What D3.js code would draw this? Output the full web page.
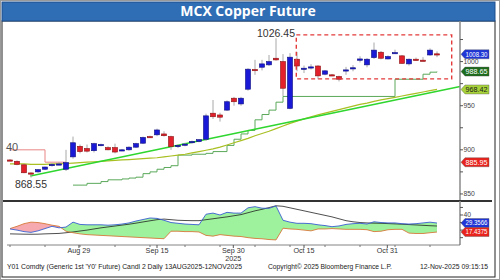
<!DOCTYPE html>
<html><head><meta charset="utf-8">
<script src="https://cdn.jsdelivr.net/npm/d3@7/dist/d3.min.js"></script>
<style>body{margin:0;background:#fff}svg{display:block}text{font-family:"Liberation Sans",Arial,sans-serif}</style>
</head><body><svg id="c" width="500" height="280"></svg>
<script>
// ---------- DATA ----------
const title = "MCX Copper Future";
const opens  = [888.5,887,883,873.8,875,878,882,883.5,878,892,904,901.5,899,905.5,902.5,902.5,899.5,900,903,907.5,915,917,918,915,904.5,905.5,908,909.5,912,941.5,939.5,945,958.5,952,968.7,991,993.6,996.3,1003.8,1000,947,1002.7,992,993.5,995,985.7,985,983,990,992.5,1001.5,996.3,1004.5,1010.6,1003,1009.8,1006.5,997.4,1002.7,1001.6,1007.5,1008.8];
const highs  = [889.5,888,884,874.5,878,881,885,886,900,915,906,906,908,907,904,907,901,904,908,915,916,924,921,916,906,908,910.5,912,941,956.5,942,956,960,960,992.5,1002,1002,1007.5,1026.45,1008.5,1009.5,1011,995.5,997,996,990.5,986,984,994,996,1006,1004,1021.6,1012,1007,1013.5,1007.5,1003.5,1004.5,1005,1015,1011.5];
const lows   = [887.5,882.5,873.5,868.55,874,877,881,882.5,876,890,896,897,897,904,899.5,896,898.5,899,902,906.5,913.5,915.5,915,900,902,904,907,908.5,910,935,932,944,950,950,967,985,990,995,1001,961,946,989,987,991,980,984.5,983.5,977.5,985,989,999,993.5,1003,1002.5,1002.5,1009,997.5,995.5,1001,1000.5,1006.5,1005];
const closes = [888,883.5,874,873.5,877.5,880.5,883.5,884,885.5,908,898,898.5,907,906,900,897.5,900,903,907,914,914.2,922.5,916,903.6,905,906.5,909.5,911.5,938.5,937.5,937,954.5,954.5,958.5,991.4,990.5,997.4,1000,1001.9,969.8,1005,995,992.5,994,983.8,989.5,984.6,980,990.6,993,1003,1002.7,1013,1003.8,1005.7,1010.2,998,1002.7,1001.2,1001.2,1013,1008.3];
const movAvg = [884,884,884,883.5,883.5,883.5,884,884,884.5,885,885.5,886,886.5,887,887.5,888,888.5,889,889.5,890,890.5,891,892,893,894,895,896.5,898,899.5,901,903,905.5,908,910.5,913,916,918.5,921,924,927,930,932.5,935,937.5,939.6,941.5,943.5,945.5,947.5,949.5,951.5,953,955,956.6,958,959.5,961,962.5,964,965.5,967,968.42];
const stopUp = [null,null,null,null,null,null,null,null,null,860,860,862,862,864,866,866,867,868,869,873,875,878,880,882,894,894,895,895,896,898,898,905,912,918,922,934,940,945,954,960.5,960.5,960.5,960.5,960.5,960.5,960.5,960.5,960.5,960.5,960.5,960.5,960.5,960.5,960.5,960.5,980,980,980,980,985.7,988,988.65];
const stopDown = [900,900,900,900,900,886,886,886,886];
const trendIdx = [2.9, 64.3];
const trendVal = [870.4, 971.7];
const diPlus  = [21.5,20,18,17,19,22,25,23,24,30.5,27.5,27,27,27,26.5,27,28,29.5,32,34,36,35.5,33,30,29,28,27.5,27,41,42.5,40,43.5,42.5,42.5,49.5,51,49,48.8,52,33,30.5,29,29,28.5,27,26,24.5,25.5,27.5,28.5,29,28,31,30,29.5,29.5,28.5,28,28.5,29.5,30.5,29.3566];
const diMinus = [22,25,28.5,30.5,30,28.5,26.5,25,18.5,16.5,15,14,13.5,13,12.5,12,11.5,11,10.5,10,9.5,9,8.6,18.5,18.5,18,18,17.5,13,12,14,13,12,11.5,10,9,8.5,7.5,7,22.5,21.5,21,20,19,21.5,21.5,22,21.5,21,21,21,20.5,18,18.5,20.5,21,21,16,15.5,15.5,16.5,17.4375];
const adx     = [15,14.8,14.6,14.5,14.6,15,15.3,15.6,16.5,17.5,18.8,20,21.5,23,24.2,25.4,26.6,27.8,29.2,30.8,32.3,33.8,34.6,33.8,33,32.7,32.5,32.5,33.8,35,36.3,37.5,39,40.5,43,45.5,47.5,49.8,52.2,51.5,49.5,47.5,45.5,43.5,41.5,39.5,37.5,35,32.5,31,30,29.5,29.2,29,28.6,28.2,27.8,27.3,26.8,26.3,25.8,25.4];
const xTickLabels = ["Aug 29","Sep 15","Sep 30","Oct 15","Oct 31"];
const xTickIdx = [9.85, 21, 31.9, 42, 53.9];
const yMajor = [850, 900, 950, 1000];
const yMinor = [875, 925, 975, 1025];
const boxIdx = [40.9, 63.1];
const boxVal = [980.4, 1030.3];
const priceTags = [
  {v:1008.30, t:"1008.30", fill:"#1f35d6", fg:"#fff"},
  {v:988.65, t:"988.65", fill:"#1d6b1d", fg:"#fff"},
  {v:968.42, t:"968.42", fill:"#a7d23a", fg:"#1a1a1a"},
  {v:885.95, t:"885.95", fill:"#e8221c", fg:"#fff"}
];
const dmiTags = [
  {v:29.3566, t:"29.3566", fill:"#1f35d6", fg:"#fff"},
  {v:17.4375, t:"17.4375", fill:"#e8221c", fg:"#fff"}
];
const footLeft = "Y01 Comdty (Generic 1st 'Y0' Future) Candl 2 Daily 13AUG2025-12NOV2025";
const footMid = "Copyright\u00a9 2025 Bloomberg Finance L.P.";
const footRight = "12-Nov-2025 09:15:15";

// ---------- SCALES ----------
const svg = d3.select("#c");
const idx = d3.range(opens.length);
const x = d3.scaleLinear().domain([0, 61]).range([10, 437]);
const y = d3.scaleLinear().domain([842, 1046]).range([201, 21]);
const y2 = d3.scaleLinear().domain([0, 58]).range([245.2, 201.4]);
const axisX = 460;

// frame
svg.append("rect").attr("x",0.5).attr("y",0.5).attr("width",499).attr("height",279).attr("fill","#fff").attr("stroke","#9a9a9a");
svg.append("rect").attr("x",2).attr("y",21).attr("width",493).attr("height",256).attr("fill","#fff").attr("stroke","#222").attr("stroke-width",1);
svg.append("rect").attr("x",2).attr("y",2).attr("width",493).attr("height",19).attr("fill","#2f6db4").attr("stroke","#1f4f8c");
svg.append("text").attr("x",248).attr("y",16).attr("text-anchor","middle").attr("fill","#fff")
  .attr("font-size",14).attr("font-weight","bold").style("font-family","'Open Sans',sans-serif").text(title);

// ---------- MAIN PANEL LINES ----------
const g = svg.append("g");
g.append("path").datum(idx.filter(i=>i<stopDown.length))
  .attr("d", d3.line().x(i=>x(i)).y(i=>y(stopDown[i])).curve(d3.curveStepAfter))
  .attr("fill","none").attr("stroke","#e98585").attr("stroke-width",1);
g.append("path").datum(idx.filter(i=>stopUp[i]!=null))
  .attr("d", d3.line().x(i=>x(i)).y(i=>y(stopUp[i])).curve(d3.curveStepAfter))
  .attr("fill","none").attr("stroke","#5aa85a").attr("stroke-width",1);
g.append("path").datum(idx)
  .attr("d", d3.line().x(i=>x(i)).y(i=>y(movAvg[i])))
  .attr("fill","none").attr("stroke","#a9bf22").attr("stroke-width",1.2);
g.append("path").datum([0,1])
  .attr("d", d3.line().x(k=>x(trendIdx[k])).y(k=>y(trendVal[k])))
  .attr("fill","none").attr("stroke","#2fd62f").attr("stroke-width",1.5);

// candles
const cw = 5;
const cg = g.append("g");
cg.selectAll("line.w").data(idx).join("line").attr("class","w")
  .attr("x1",i=>x(i)).attr("x2",i=>x(i)).attr("y1",i=>y(highs[i])).attr("y2",i=>y(lows[i]))
  .attr("stroke","#a8a8a8").attr("stroke-width",1);
cg.selectAll("rect.b").data(idx).join("rect").attr("class","b")
  .attr("x",i=>x(i)-cw/2).attr("width",cw)
  .attr("y",i=>y(Math.max(opens[i],closes[i])))
  .attr("height",i=>Math.max(1.2, Math.abs(y(opens[i])-y(closes[i]))))
  .attr("fill",i=>closes[i]>=opens[i]?"#1a1ad6":"#e2202c")
  .attr("stroke",i=>closes[i]>=opens[i]?"#0c0c80":"#8a1010").attr("stroke-width",0.6);

// highlight box
g.append("rect").attr("x",x(boxIdx[0])).attr("y",y(boxVal[1]))
  .attr("width",x(boxIdx[1])-x(boxIdx[0])).attr("height",y(boxVal[0])-y(boxVal[1]))
  .attr("fill","none").attr("stroke","#e43a3a").attr("stroke-width",1.4).attr("stroke-dasharray","4,3");

// annotations
const hiI = highs.indexOf(d3.max(highs)), loI = lows.indexOf(d3.min(lows));
svg.append("text").attr("x",x(hiI)).attr("y",y(highs[hiI])-1).attr("text-anchor","middle")
  .attr("font-size",10.5).attr("fill","#333").text(d3.format(".2f")(highs[hiI]));
svg.append("text").attr("x",x(loI)).attr("y",y(lows[loI])+10).attr("text-anchor","middle")
  .attr("font-size",10.5).attr("fill","#333").text(d3.format(".2f")(lows[loI]));
svg.append("text").attr("x",6).attr("y",y(stopDown[0])+1).attr("font-size",11).attr("fill","#555").text("40");

// right axis main
svg.append("line").attr("x1",axisX).attr("x2",axisX).attr("y1",21).attr("y2",201).attr("stroke","#8a8a8a").attr("stroke-width",1.5);
svg.selectAll("line.ymaj").data(yMajor.concat(yMinor)).join("line").attr("class","ymaj")
  .attr("x1",axisX).attr("x2",axisX+3).attr("y1",d=>y(d)).attr("y2",d=>y(d)).attr("stroke","#555");
svg.selectAll("text.ylab").data(yMajor).join("text").attr("class","ylab")
  .attr("x",axisX+3.5).attr("y",d=>y(d)+2.3).attr("font-size",6.8).attr("fill","#444").text(d=>d);

function tag(yc, t, fill, fg){
  const x0 = axisX+1, w = 28, h = 9;
  svg.append("path").attr("d",`M${x0},${yc} L${x0+4},${yc-h/2} L${x0+w},${yc-h/2} L${x0+w},${yc+h/2} L${x0+4},${yc+h/2} Z`)
    .attr("fill",fill).attr("stroke","#555").attr("stroke-width",0.4);
  svg.append("text").attr("x",x0+4.5).attr("y",yc+2.4).attr("font-size",6.8).attr("fill",fg)
    .attr("textLength",22).attr("lengthAdjust","spacingAndGlyphs").text(t);
}
priceTags.forEach(d=>tag(y(d.v), d.t, d.fill, d.fg));

// ---------- LOWER PANEL ----------
svg.append("line").attr("x1",3).attr("x2",492).attr("y1",201).attr("y2",201).attr("stroke","#333").attr("stroke-width",2);
const defs = svg.append("defs");
defs.append("clipPath").attr("id","aboveMinus").append("path").datum(idx)
  .attr("d", d3.area().x(i=>x(i)).y0(y2(58)).y1(i=>y2(diMinus[i])));
defs.append("clipPath").attr("id","abovePlus").append("path").datum(idx)
  .attr("d", d3.area().x(i=>x(i)).y0(y2(58)).y1(i=>y2(diPlus[i])));
svg.append("path").datum(idx).attr("clip-path","url(#aboveMinus)")
  .attr("d", d3.area().x(i=>x(i)).y0(i=>y2(diPlus[i])).y1(y2(0)))
  .attr("fill","#9ef29e");
svg.append("path").datum(idx).attr("clip-path","url(#abovePlus)")
  .attr("d", d3.area().x(i=>x(i)).y0(i=>y2(diMinus[i])).y1(y2(0)))
  .attr("fill","#f6a9ae");
svg.append("path").datum(idx).attr("d", d3.line().x(i=>x(i)).y(i=>y2(adx[i])))
  .attr("fill","none").attr("stroke","#222").attr("stroke-width",0.8);
svg.append("path").datum(idx).attr("d", d3.line().x(i=>x(i)).y(i=>y2(diMinus[i])))
  .attr("fill","none").attr("stroke","#d7783a").attr("stroke-width",0.9);
svg.append("path").datum(idx).attr("d", d3.line().x(i=>x(i)).y(i=>y2(diPlus[i])))
  .attr("fill","none").attr("stroke","#3a5ed0").attr("stroke-width",0.9);

svg.append("line").attr("x1",axisX).attr("x2",axisX).attr("y1",201).attr("y2",245).attr("stroke","#8a8a8a").attr("stroke-width",1.5);
svg.selectAll("line.y2t").data([10,20,30,40,50]).join("line").attr("class","y2t")
  .attr("x1",axisX).attr("x2",axisX+3).attr("y1",d=>y2(d)).attr("y2",d=>y2(d)).attr("stroke","#555");
svg.append("text").attr("x",axisX+3.5).attr("y",y2(40)+2.3).attr("font-size",6.8).attr("fill","#444").text("40");
dmiTags.forEach(d=>tag(y2(d.v), d.t, d.fill, d.fg));

// x axis
svg.append("line").attr("x1",7).attr("x2",axisX).attr("y1",245).attr("y2",245).attr("stroke","#666").attr("stroke-width",0.8);
const minorIdx = d3.range(0, 62, 5);
svg.selectAll("line.xm").data(minorIdx).join("line").attr("class","xm")
  .attr("x1",d=>x(d)).attr("x2",d=>x(d)).attr("y1",245).attr("y2",247).attr("stroke","#777");
svg.selectAll("line.xt").data(xTickIdx).join("line").attr("class","xt")
  .attr("x1",d=>x(d)).attr("x2",d=>x(d)).attr("y1",245).attr("y2",248).attr("stroke","#555");
svg.selectAll("text.xl").data(xTickLabels).join("text").attr("class","xl")
  .attr("x",(d,k)=>x(xTickIdx[k])).attr("y",253).attr("text-anchor","middle")
  .attr("font-size",7.2).attr("fill","#333").text(d=>d);
svg.append("text").attr("x",x(xTickIdx[2])).attr("y",260.5).attr("text-anchor","middle")
  .attr("font-size",7.2).attr("fill","#333").text("2025");

// footer
svg.append("text").attr("x",7).attr("y",269).attr("font-size",6.5).attr("fill","#222")
  .attr("textLength",235).attr("lengthAdjust","spacingAndGlyphs").text(footLeft);
svg.append("text").attr("x",268).attr("y",269).attr("font-size",6.5).attr("fill","#222")
  .attr("textLength",124).attr("lengthAdjust","spacingAndGlyphs").text(footMid);
svg.append("text").attr("x",420).attr("y",269).attr("font-size",6.5).attr("fill","#222")
  .attr("textLength",68).attr("lengthAdjust","spacingAndGlyphs").text(footRight);
</script>
</body></html>
